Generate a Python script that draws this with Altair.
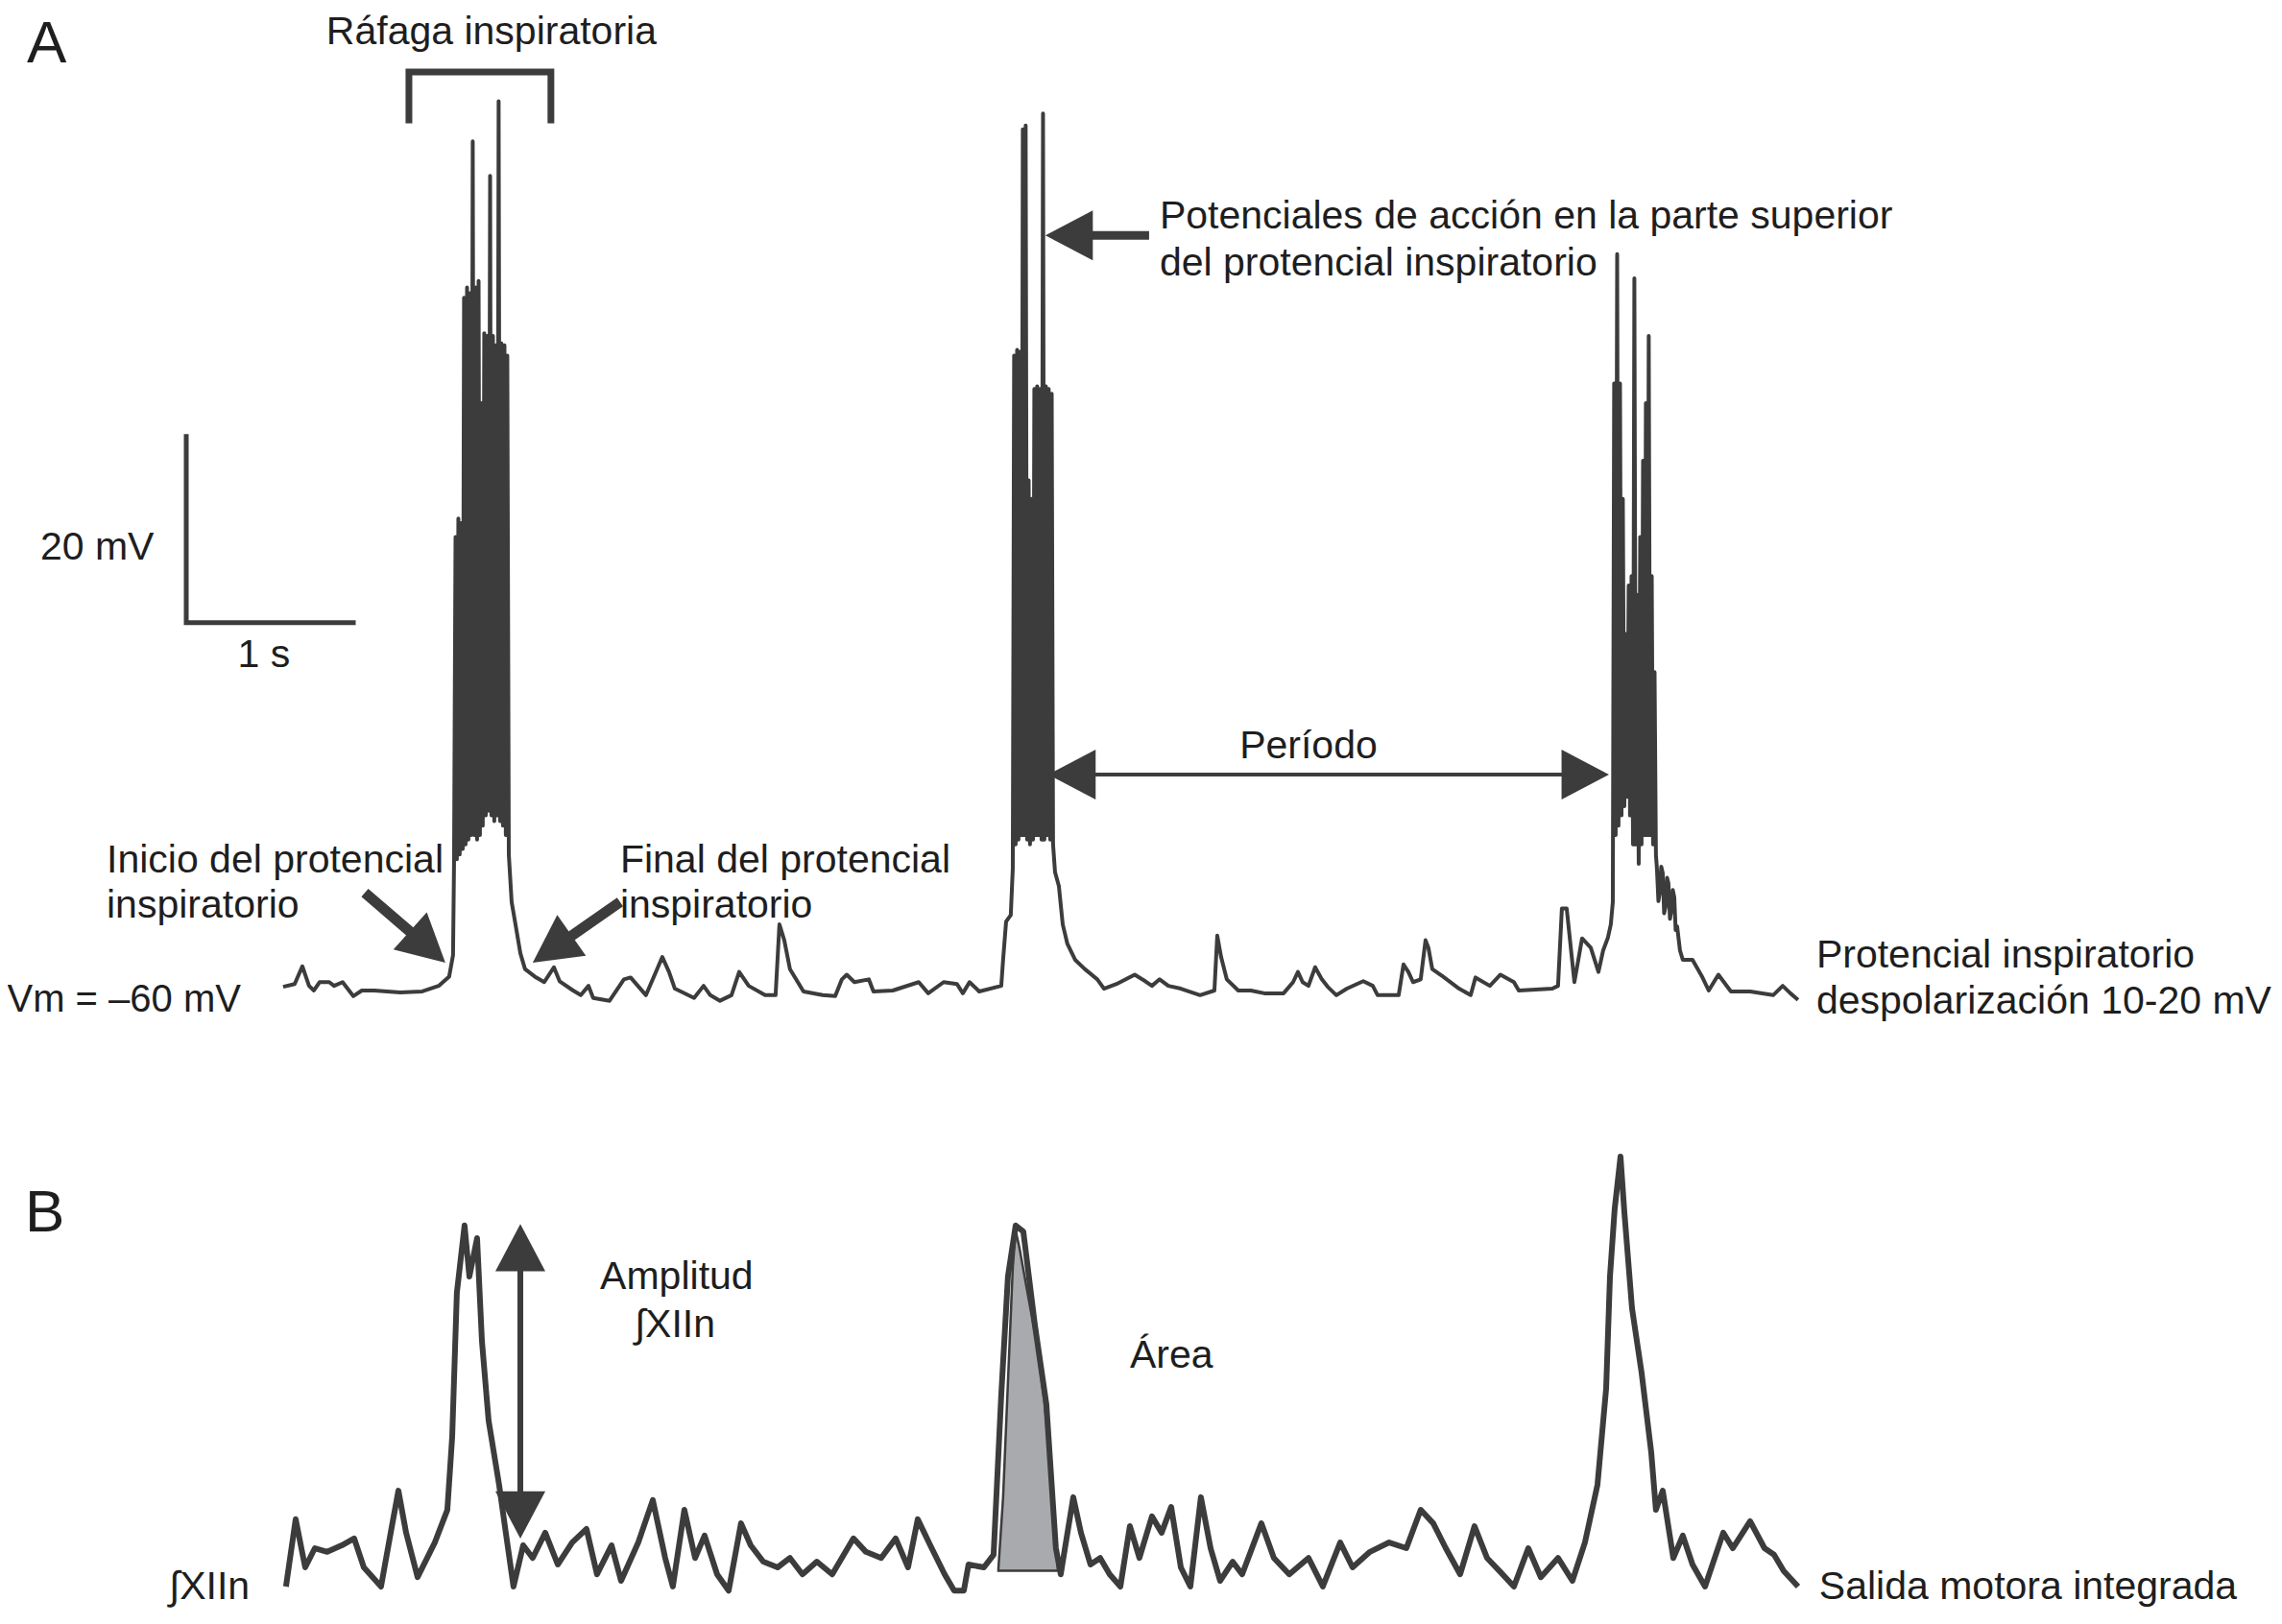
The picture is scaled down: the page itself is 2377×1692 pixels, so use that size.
import altair as alt
import pandas as pd

# ---------------- Panel A: membrane potential (time in s, Vm in mV) ----------------
a_pre_t = [-0.023, 0.046, 0.092, 0.132, 0.161, 0.195, 0.253, 0.282, 0.333, 0.397, 0.448,
           0.523, 0.678, 0.810, 0.908, 0.971, 0.994]
a_pre_mv = [-59.7, -59.4, -57.5, -59.6, -60.1, -59.2, -59.2, -59.6, -59.2, -60.7, -60.1,
            -60.1, -60.3, -60.2, -59.6, -58.6, -56.3]

burst1_t = [1.000, 1.009, 1.017, 1.026, 1.034, 1.043, 1.052, 1.060, 1.069, 1.078,
            1.086, 1.095, 1.103, 1.112, 1.121, 1.129, 1.138, 1.147, 1.155, 1.164,
            1.172, 1.181, 1.190, 1.198, 1.207, 1.216, 1.224, 1.233, 1.241, 1.250,
            1.259, 1.267, 1.276, 1.284, 1.293, 1.302, 1.310, 1.319, 1.328]
burst1_mv = [-46.5, -11.4, -46.0, -9.4, -45.5, -9.9, -44.9, 14.3, -44.4, 15.4,
             -43.9, 14.8, -43.4, 31.1, -43.4, 15.4, -43.9, 16.1, -43.4, 3.0,
             -42.4, 10.5, -41.3, 10.2, -40.8, 27.4, -41.3, 10.2, -41.9, 9.2,
             -41.3, 35.4, -41.9, 9.4, -42.4, 9.2, -43.4, 8.1, -45.5]

a_mid1_t = [1.345, 1.368, 1.397, 1.425, 1.483, 1.540, 1.598, 1.632, 1.713, 1.759,
            1.805, 1.833, 1.931, 2.017, 2.057, 2.149, 2.247, 2.287, 2.322, 2.437,
            2.494, 2.534, 2.592, 2.661, 2.707, 2.764, 2.862, 2.925, 2.948, 2.977,
            3.011, 3.092, 3.207, 3.282, 3.322, 3.351, 3.397, 3.483, 3.511, 3.626,
            3.782, 3.839, 3.931, 4.011, 4.046, 4.086, 4.144, 4.276, 4.287, 4.305, 4.333]
a_mid1_mv = [-50.6, -53.0, -56.1, -57.8, -58.6, -59.2, -57.6, -59.1, -60.1, -60.6,
             -59.6, -60.9, -61.2, -58.9, -58.7, -60.6, -56.5, -58.1, -59.9, -60.9,
             -59.6, -60.6, -61.2, -60.6, -58.1, -59.6, -60.6, -60.6, -53.0, -54.7,
             -57.8, -60.2, -60.6, -60.7, -58.9, -58.4, -59.2, -58.9, -60.2, -60.1,
             -59.2, -60.4, -59.2, -59.4, -60.4, -59.2, -60.2, -59.6, -56.8, -52.7, -52.0]

burst2_t = [4.345, 4.353, 4.362, 4.371, 4.379, 4.388, 4.397, 4.405, 4.414, 4.422,
            4.431, 4.440, 4.448, 4.457, 4.466, 4.474, 4.483, 4.491, 4.500, 4.509,
            4.517, 4.526, 4.534, 4.543, 4.552, 4.560, 4.569, 4.578, 4.586]
burst2_mv = [-47.0, 8.1, -44.4, 8.7, -43.9, 8.5, -43.4, 32.4, -43.4, 32.8,
             -43.9, -5.3, -44.4, -7.3, -43.9, 4.5, -43.4, 4.8, -43.4, 4.5,
             -43.9, 34.1, -43.9, 4.8, -43.4, 4.5, -43.9, 4.0, -44.4]

a_mid2_t = [4.598, 4.621, 4.644, 4.672, 4.718, 4.776, 4.851, 4.891, 4.966, 5.075,
            5.138, 5.178, 5.224, 5.276, 5.351, 5.466, 5.552, 5.569, 5.592, 5.626,
            5.695, 5.770, 5.851, 5.966, 6.023, 6.052, 6.080, 6.115, 6.155, 6.195,
            6.230, 6.282, 6.345, 6.443, 6.500, 6.529, 6.655, 6.684, 6.713, 6.741,
            6.787, 6.816, 6.833, 6.856, 6.920, 7.017, 7.086, 7.115, 7.201, 7.264,
            7.345, 7.374, 7.575, 7.609, 7.632, 7.661, 7.707, 7.753, 7.805, 7.851,
            7.879, 7.908, 7.925]
a_mid2_mv = [-47.4, -48.9, -53.0, -55.1, -56.8, -57.8, -58.9, -59.9, -59.4, -58.4,
             -59.1, -59.6, -58.9, -59.6, -59.9, -60.6, -60.1, -54.2, -56.5, -58.9,
             -60.1, -60.1, -60.4, -60.4, -59.2, -58.1, -59.2, -59.6, -57.6, -58.9,
             -59.7, -60.6, -59.9, -59.1, -59.6, -60.6, -60.6, -57.3, -58.1, -59.2,
             -58.9, -54.7, -55.5, -57.8, -58.6, -59.9, -60.6, -58.7, -59.6, -58.4,
             -59.2, -60.1, -59.9, -59.6, -51.3, -51.3, -59.2, -54.5, -55.5, -58.1,
             -55.8, -54.4, -53.0]

burst3_t = [7.937, 7.945, 7.954, 7.963, 7.971, 7.980, 7.989, 7.997, 8.006, 8.014,
            8.023, 8.032, 8.040, 8.049, 8.058, 8.066, 8.075, 8.083, 8.092, 8.101,
            8.109, 8.118, 8.127, 8.135, 8.144, 8.152, 8.161, 8.170, 8.178, 8.187, 8.195]
burst3_mv = [-50.6, 5.1, -43.4, 19.0, -42.4, 5.1, -41.3, -7.3, -40.3, -21.8,
             -39.3, -16.6, -41.3, -15.6, -44.4, 16.4, -44.4, -17.6, -46.5, -11.4,
             -44.4, -3.2, -43.4, 3.0, -43.4, 10.2, -43.4, -15.6, -44.4, -25.9, -45.5]

a_post_t = [8.201, 8.210, 8.218, 8.227, 8.236, 8.244, 8.253, 8.262, 8.270, 8.279,
            8.287, 8.296, 8.305, 8.313, 8.322, 8.339, 8.356,
            8.414, 8.471, 8.511, 8.569, 8.644, 8.759, 8.897, 8.954, 9.000, 9.046]
a_post_mv = [-47.0, -50.5, -49.6, -46.8, -47.5, -51.8, -51.1, -48.0, -48.6, -52.4,
             -51.6, -49.3, -50.1, -53.6, -53.2, -55.8, -56.8,
             -56.8, -58.6, -60.1, -58.4, -60.2, -60.2, -60.6, -59.6, -60.4, -61.1]

# ---------------- Panel B: integrated XII nerve output (arbitrary units) ----------------
xii_t = [-0.006, 0.052, 0.109, 0.167, 0.241, 0.328, 0.402, 0.460, 0.563, 0.621,
         0.667, 0.713, 0.782, 0.885, 0.960, 0.989, 1.017, 1.063, 1.092, 1.138,
         1.167, 1.207, 1.270, 1.310, 1.356, 1.414, 1.471, 1.546, 1.621, 1.707,
         1.793, 1.856, 1.943, 2.000, 2.103, 2.190, 2.264, 2.310, 2.379, 2.443,
         2.500, 2.575, 2.644, 2.718, 2.776, 2.851, 2.937, 3.011, 3.086, 3.172,
         3.264, 3.391, 3.466, 3.557, 3.644, 3.718, 3.776, 3.851, 3.937, 3.994,
         4.052, 4.080, 4.172, 4.230, 4.276, 4.316, 4.362, 4.408, 4.477, 4.546,
         4.603, 4.632, 4.707, 4.753, 4.810, 4.868, 4.925, 4.989, 5.046, 5.103,
         5.178, 5.236, 5.293, 5.351, 5.408, 5.471, 5.529, 5.586, 5.661, 5.718,
         5.833, 5.908, 6.000, 6.115, 6.201, 6.305, 6.379, 6.483, 6.598, 6.701,
         6.787, 6.862, 6.937, 7.023, 7.109, 7.184, 7.259, 7.345, 7.431, 7.506,
         7.609, 7.695, 7.770, 7.845, 7.897, 7.920, 7.948, 7.983, 8.006, 8.052,
         8.109, 8.167, 8.195, 8.236, 8.299, 8.356, 8.414, 8.489, 8.598, 8.655,
         8.759, 8.845, 8.902, 8.960, 9.046]
xii_au = [-5.4, 11.1, -0.7, 4.0, 3.1, 4.7, 6.4, -0.7, -5.4, 7.8,
          18.1, 7.8, -3.1, 5.4, 13.4, 31.3, 66.6, 83.1, 70.6, 80.0,
          54.8, 35.3, 19.5, 7.8, -5.4, 4.7, 1.6, 7.8, 0.0, 5.4,
          8.7, -2.4, 4.7, -4.0, 5.4, 15.8, 1.6, -5.4, 13.4, 1.6,
          7.1, -2.4, -6.4, 10.1, 4.7, 0.7, -0.7, 1.6, -2.4, 0.7,
          -2.4, 6.4, 3.1, 1.6, 6.4, -0.7, 11.1, 4.7, -2.4, -6.4,
          -6.4, 0.0, -0.7, 2.4, 41.6, 70.6, 83.1, 81.6, 58.8, 39.3,
          4.0, -2.4, 16.5, 7.8, 0.0, 1.6, -2.4, -5.4, 9.4, 1.6,
          11.8, 7.8, 14.1, -0.7, -5.4, 16.5, 4.0, -4.0, 0.7, -2.4,
          10.1, 1.6, -2.4, 1.6, -5.4, 5.4, -0.7, 3.1, 5.4, 4.0,
          13.4, 10.1, 4.0, -2.4, 9.4, 1.6, -1.6, -5.4, 4.0, -3.1,
          1.6, -4.0, 5.4, 19.5, 43.1, 70.6, 87.1, 100.0, 86.4, 62.8,
          47.1, 27.5, 13.4, 18.1, 1.6, 7.1, 0.0, -5.4, 7.8, 4.0,
          10.6, 4.0, 2.4, -1.6, -5.4]

area_t = [4.259, 4.287, 4.316, 4.345, 4.362, 4.385, 4.431, 4.489, 4.534, 4.575, 4.603, 4.615]
area_au = [-1.0, 16.5, 44.7, 72.9, 81.9, 77.6, 67.1, 54.1, 40.0, 21.2, 4.7, -1.0]

# ---------------- annotations (data coordinates) ----------------
texts_a_left = [
    ("20 mV", -1.477, -13.8),
    ("Inicio del protencial", -1.080, -47.4),
    ("inspiratorio", -1.080, -52.3),
    ("Final del protencial", 1.994, -47.4),
    ("inspiratorio", 1.994, -52.3),
    ("Potenciales de acción en la parte superior", 5.224, 21.75),
    ("del protencial inspiratorio", 5.224, 16.7),
    ("Protencial inspiratorio", 9.155, -57.6),
    ("despolarización 10-20 mV", 9.155, -62.6),
]
texts_a_center = [
    ("Ráfaga inspiratoria", 1.224, 41.55),
    ("1 s", -0.138, -25.4),
    ("Período", 6.115, -35.15),
]
texts_a_right = [("Vm = –60 mV", -0.276, -62.4)]
texts_b_left = [
    ("Área", 5.046, 48.2),
    ("∫XIIn", -0.707, -8.47),
    ("Salida motora integrada", 9.172, -8.47),
]
texts_b_center = [
    ("Amplitud", 2.333, 67.5),
    ("∫XIIn", 2.322, 55.8),
]
panel_a_label = [("A", -1.557, 39.59)]
panel_b_label = [("B", -1.569, 81.6)]

bracket_t = [0.730, 0.730, 1.580, 1.580]
bracket_mv = [33.4, 38.56, 38.56, 33.4]
scalebar_t = [-0.603, -0.603, 0.397]
scalebar_mv = [-0.6, -20.6, -20.6]

# shafts: (t_from, v_from, t_to, v_to)
thick_shafts_a = [(0.466, -49.6, 0.819, -55.05), (1.994, -50.6, 1.613, -55.35)]
mid_shafts_a = [(5.161, 21.0, 4.713, 21.0)]
thin_shafts_a = [(4.65, -36.9, 7.82, -36.9)]
shafts_b = [(1.397, 76.0, 1.397, 12.0)]
# heads: (t_tip, v_tip, direction in degrees clockwise from up)
heads_a = [(0.948, -57.1, 132), (1.471, -57.1, 235), (4.540, 21.0, 270),
           (4.557, -36.9, 270), (7.914, -36.9, 90)]
heads_b = [(1.397, 83.5, 0), (1.397, 6.35, 180)]

# ---------------- build chart ----------------
INK = "#3c3c3c"
TXT = "#1e1e1e"
FONT = "Liberation Sans"
HEAD = "M0,0L1,1.9L-1,1.9Z"

xs = alt.Scale(domain=[-1.672, 11.897], nice=False, zero=False)
ya = alt.Scale(domain=[-126.49, 45.46], nice=False, zero=False)
yb = alt.Scale(domain=[-10.82, 381.65], nice=False, zero=False)


def X(f="t"):
    return alt.X(f"{f}:Q", scale=xs, axis=None)


def YA(f="v"):
    return alt.Y(f"{f}:Q", scale=ya, axis=None)


def YB(f="v"):
    return alt.Y(f"{f}:Q", scale=yb, axis=None)


trace_a = pd.DataFrame({
    "t": a_pre_t + burst1_t + a_mid1_t + burst2_t + a_mid2_t + burst3_t + a_post_t,
    "v": a_pre_mv + burst1_mv + a_mid1_mv + burst2_mv + a_mid2_mv + burst3_mv + a_post_mv,
})
trace_b = pd.DataFrame({"t": xii_t, "v": xii_au})
area_df = pd.DataFrame({"t": area_t, "v": area_au})


def text_df(rows):
    return pd.DataFrame(rows, columns=["label", "t", "v"])


def shaft_df(rows):
    return pd.DataFrame(rows, columns=["t", "v", "t2", "v2"])


def head_df(rows):
    return pd.DataFrame(rows, columns=["t", "v", "ang"])


def path_df(ts, vs):
    return pd.DataFrame({"i": list(range(len(ts))), "t": ts, "v": vs})


layers = []

layers.append(
    alt.Chart(area_df).mark_area(color="#a8aaad", stroke=INK, strokeWidth=2.5, opacity=1)
    .encode(x=X(), y=YB(), y2=alt.Y2(datum=-1.5))
)
layers.append(
    alt.Chart(trace_a).mark_line(color=INK, strokeWidth=4, strokeJoin="round")
    .encode(x=X(), y=YA())
)
layers.append(
    alt.Chart(trace_b).mark_line(color=INK, strokeWidth=6, strokeJoin="round")
    .encode(x=X(), y=YB())
)
layers.append(
    alt.Chart(path_df(bracket_t, bracket_mv)).mark_line(color=INK, strokeWidth=7, strokeJoin="miter", strokeCap="square")
    .encode(x=X(), y=YA(), order="i:Q")
)
layers.append(
    alt.Chart(path_df(scalebar_t, scalebar_mv)).mark_line(color=INK, strokeWidth=5, strokeJoin="miter", strokeCap="square")
    .encode(x=X(), y=YA(), order="i:Q")
)

for rows, w in [(thick_shafts_a, 11), (mid_shafts_a, 9), (thin_shafts_a, 4)]:
    layers.append(
        alt.Chart(shaft_df(rows)).mark_rule(color=INK, strokeWidth=w)
        .encode(x=X(), y=YA(), x2=alt.X2("t2:Q"), y2=alt.Y2("v2:Q"))
    )
layers.append(
    alt.Chart(shaft_df(shafts_b)).mark_rule(color=INK, strokeWidth=6)
    .encode(x=X(), y=YB(), x2=alt.X2("t2:Q"), y2=alt.Y2("v2:Q"))
)
layers.append(
    alt.Chart(head_df(heads_a)).mark_point(shape=HEAD, size=2704, filled=True, color=INK, opacity=1, strokeWidth=0)
    .encode(x=X(), y=YA(), angle=alt.Angle("ang:Q", scale=None))
)
layers.append(
    alt.Chart(head_df(heads_b)).mark_point(shape=HEAD, size=2704, filled=True, color=INK, opacity=1, strokeWidth=0)
    .encode(x=X(), y=YB(), angle=alt.Angle("ang:Q", scale=None))
)


def text_layer(rows, yfun, align, size=41):
    return (
        alt.Chart(text_df(rows))
        .mark_text(align=align, baseline="alphabetic", font=FONT, fontSize=size, color=TXT)
        .encode(x=X(), y=yfun(), text="label:N")
    )


layers += [
    text_layer(texts_a_left, YA, "left"),
    text_layer(texts_a_center, YA, "center"),
    text_layer(texts_a_right, YA, "right", 40),
    text_layer(panel_a_label, YA, "left", 62),
    text_layer(texts_b_left, YB, "left"),
    text_layer(texts_b_center, YB, "center"),
    text_layer(panel_b_label, YB, "left", 62),
]

chart = (
    alt.layer(*layers)
    .resolve_scale(y="independent")
    .properties(width=2361, height=1668, padding=0,
                autosize=alt.AutoSizeParams(type="none"), background="white")
    .configure_view(strokeWidth=0)
)

chart.save("out.html", embed_options={"renderer": "svg", "actions": False})
